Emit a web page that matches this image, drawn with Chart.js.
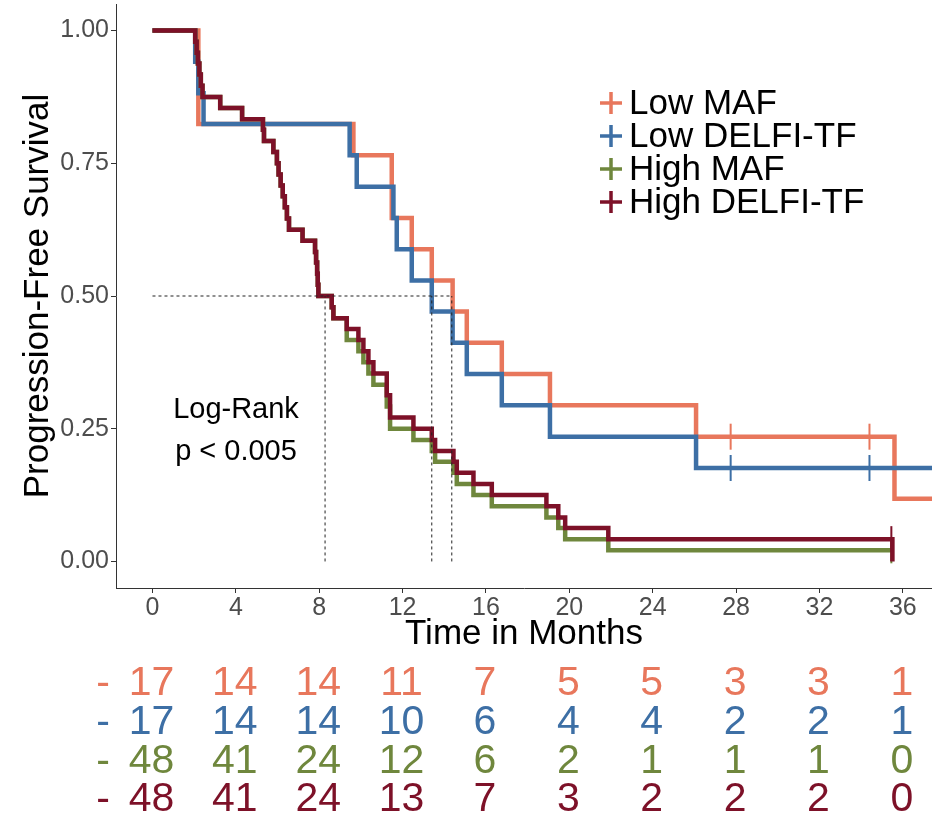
<!DOCTYPE html>
<html>
<head>
<meta charset="utf-8">
<script src="https://cdn.jsdelivr.net/npm/chart.js@4.4.1/dist/chart.umd.min.js"></script>
<style>
  html, body { margin: 0; padding: 0; background: #fff; }
  #wrap { width: 932px; height: 815px; }
</style>
</head>
<body>
<div id="wrap"><canvas id="km" width="932" height="815"></canvas></div>
<script>
// Kaplan-Meier step points (time in months, survival)
const lowMafTimes = [0, 2.2, 9.64, 11.48, 12.44, 13.4, 14.4, 15.08, 16.76, 19.07, 26.08, 35.6, 37.4];
const lowMafSurv = [1, 0.824, 0.765, 0.647, 0.588, 0.529, 0.471, 0.412, 0.353, 0.294, 0.235, 0.118, 0.118];

const lowDelfiTimes = [0, 2.05, 2.2, 2.45, 9.46, 9.8, 11.56, 11.72, 12.44, 13.4, 14.4, 15.08, 16.76, 19.07, 26.08, 37.4];
const lowDelfiSurv = [1, 0.941, 0.882, 0.824, 0.765, 0.706, 0.647, 0.588, 0.529, 0.471, 0.412, 0.353, 0.294, 0.235, 0.176, 0.176];

const highMafTimes = [0, 2.05, 2.12, 2.18, 2.25, 2.32, 2.4, 3.25, 4.3, 5.3, 5.35, 5.8, 5.97, 6.05, 6.15, 6.25, 6.35, 6.45, 6.55, 7.2,
  7.8, 7.85, 7.9, 7.93, 7.96, 8.6, 8.68, 9.32, 9.88, 10.12, 10.36, 10.6, 11.24, 11.4, 12.52, 13.4, 13.56, 14.44, 14.6, 15.4, 16.28,
  18.9, 19.47, 19.8, 21.87, 35.5];
const highMafSurv = [1, 0.979, 0.958, 0.938, 0.917, 0.896, 0.875, 0.854, 0.833, 0.813, 0.792, 0.771, 0.75, 0.729, 0.708, 0.688, 0.667, 0.646, 0.625, 0.604,
  0.583, 0.563, 0.542, 0.521, 0.5, 0.479, 0.458, 0.417, 0.396, 0.375, 0.354, 0.333, 0.292, 0.25, 0.229, 0.208, 0.188, 0.167, 0.146, 0.125, 0.104,
  0.083, 0.063, 0.042, 0.021, 0.021];

const highDelfiTimes = [0, 2.05, 2.12, 2.18, 2.25, 2.32, 2.4, 3.25, 4.3, 5.3, 5.35, 5.8, 5.97, 6.05, 6.15, 6.25, 6.35, 6.45, 6.55, 7.2,
  7.8, 7.85, 7.9, 7.93, 7.96, 8.6, 8.68, 9.32, 9.88, 10.12, 10.36, 10.6, 11.24, 11.4, 12.52, 13.4, 13.56, 14.44, 14.6, 15.4, 16.28,
  18.9, 19.47, 19.8, 21.87, 35.5];
const highDelfiSurv = [1, 0.979, 0.958, 0.938, 0.917, 0.896, 0.875, 0.854, 0.833, 0.813, 0.792, 0.771, 0.75, 0.729, 0.708, 0.688, 0.667, 0.646, 0.625, 0.604,
  0.583, 0.563, 0.542, 0.521, 0.5, 0.479, 0.458, 0.438, 0.417, 0.396, 0.375, 0.354, 0.313, 0.271, 0.25, 0.229, 0.208, 0.188, 0.167, 0.146, 0.125,
  0.104, 0.083, 0.063, 0.042, 0];

// censoring marks
const lowMafCensorTimes = [27.74, 34.4];
const lowMafCensorSurv = [0.235, 0.235];
const lowDelfiCensorTimes = [27.74, 34.4];
const lowDelfiCensorSurv = [0.176, 0.176];
const highMafCensorTimes = [35.45];
const highMafCensorSurv = [0.021];
const highDelfiCensorTimes = [35.45];
const highDelfiCensorSurv = [0.042];

// median survival guides
const medianLevel = 0.5;
const medianTimes = [8.28, 13.4, 14.36];

// number at risk table
const riskTimes = [0, 4, 8, 12, 16, 20, 24, 28, 32, 36];
const lowMafRisk = [17, 14, 14, 11, 7, 5, 5, 3, 3, 1];
const lowDelfiRisk = [17, 14, 14, 10, 6, 4, 4, 2, 2, 1];
const highMafRisk = [48, 41, 24, 12, 6, 2, 1, 1, 1, 0];
const highDelfiRisk = [48, 41, 24, 13, 7, 3, 2, 2, 2, 0];

const yTicks = [0, 0.25, 0.5, 0.75, 1];

const fontFamily = "'Liberation Sans', Arial, Helvetica, sans-serif";

const groups = [
  { name: 'Low MAF', color: '#E8775C', times: lowMafTimes, surv: lowMafSurv, cT: lowMafCensorTimes, cS: lowMafCensorSurv, risk: lowMafRisk, order: 4 },
  { name: 'Low DELFI-TF', color: '#3D6FA5', times: lowDelfiTimes, surv: lowDelfiSurv, cT: lowDelfiCensorTimes, cS: lowDelfiCensorSurv, risk: lowDelfiRisk, order: 3 },
  { name: 'High MAF', color: '#6F873D', times: highMafTimes, surv: highMafSurv, cT: highMafCensorTimes, cS: highMafCensorSurv, risk: highMafRisk, order: 2 },
  { name: 'High DELFI-TF', color: '#7D1128', times: highDelfiTimes, surv: highDelfiSurv, cT: highDelfiCensorTimes, cS: highDelfiCensorSurv, risk: highDelfiRisk, order: 1 },
];

let datasets = [];
groups.forEach(function (g) {
  datasets.push({
    label: g.name,
    data: g.times.map((t, i) => ({ x: t, y: g.surv[i] })),
    showLine: true,
    stepped: true,
    borderColor: g.color,
    borderWidth: 4.5,
    pointRadius: 0,
    fill: false,
    order: g.order,
  });
  datasets.push({
    label: g.name + ' censored',
    data: g.cT.map((t, i) => ({ x: t, y: g.cS[i] })),
    showLine: false,
    pointStyle: 'line',
    pointRotation: 90,
    pointRadius: 13,
    pointHoverRadius: 13,
    pointBorderColor: g.color,
    pointBorderWidth: 2,
    order: g.order,
  });
});

// dashed median guides
datasets.push({
  label: 'median-h',
  data: [{ x: 0, y: medianLevel }, { x: medianTimes[medianTimes.length - 1], y: medianLevel }],
  showLine: true,
  borderColor: '#222',
  borderWidth: 1,
  borderDash: [3, 3],
  pointRadius: 0,
  order: 0,
});
medianTimes.forEach(function (m) {
  datasets.push({
    label: 'median-v',
    data: [{ x: m, y: 0 }, { x: m, y: medianLevel }],
    showLine: true,
    borderColor: '#222',
    borderWidth: 1,
    borderDash: [3, 3],
    pointRadius: 0,
    order: 0,
  });
});

const extrasPlugin = {
  id: 'kmExtras',
  afterDraw(chart) {
    const ctx = chart.ctx;
    const xs = chart.scales.x;
    ctx.save();

    // log-rank annotation
    ctx.fillStyle = '#000';
    ctx.textAlign = 'center';
    ctx.textBaseline = 'middle';
    ctx.font = '29px ' + fontFamily;
    ctx.fillText('Log-Rank', 236, 410);
    ctx.fillText('p < 0.005', 236, 452);

    // legend
    const lx = 611, ly = 103, gap = 33;
    groups.forEach(function (g, i) {
      const y = ly + i * gap;
      ctx.strokeStyle = g.color;
      ctx.lineWidth = 3.5;
      ctx.beginPath();
      ctx.moveTo(lx - 11, y);
      ctx.lineTo(lx + 11, y);
      ctx.moveTo(lx, y - 11);
      ctx.lineTo(lx, y + 11);
      ctx.stroke();
      ctx.fillStyle = '#000';
      ctx.textAlign = 'left';
      ctx.font = '35px ' + fontFamily;
      ctx.fillText(g.name, 629, y + 1);
    });

    // number at risk
    const rowY = [684, 723, 762, 800];
    ctx.font = '41px ' + fontFamily;
    groups.forEach(function (g, i) {
      ctx.fillStyle = g.color;
      ctx.textAlign = 'center';
      ctx.fillText('-', 103, rowY[i]);
      g.risk.forEach(function (n, j) {
        ctx.fillText(String(n), xs.getPixelForValue(riskTimes[j]) - 1, rowY[i]);
      });
    });
    ctx.restore();
  },
};

new Chart(document.getElementById('km'), {
  type: 'scatter',
  data: { datasets: datasets },
  plugins: [extrasPlugin],
  options: {
    responsive: false,
    animation: false,
    events: [],
    layout: { autoPadding: false, padding: { top: 4, left: 0, right: 0, bottom: 160 } },
    plugins: {
      legend: { display: false },
      tooltip: { enabled: false },
    },
    scales: {
      x: {
        type: 'linear',
        min: -1.75,
        max: 37.4,
        afterBuildTicks: function (scale) {
          scale.ticks = riskTimes.map((v) => ({ value: v }));
        },
        afterFit: function (scale) {
          scale.height = 67;
          scale.paddingLeft = 0;
          scale.paddingRight = 0;
        },
        ticks: {
          autoSkip: false,
          maxRotation: 0,
          padding: 0,
          color: '#4D4D4D',
          font: { size: 25, family: fontFamily },
          callback: (v) => String(v),
        },
        grid: { drawOnChartArea: false, drawTicks: true, tickLength: 5, tickColor: '#333', tickWidth: 1 },
        border: { display: true, color: '#333', width: 1 },
        title: {
          display: true,
          text: 'Time in Months',
          color: '#000',
          font: { size: 35, family: fontFamily },
          padding: { top: 0, bottom: 0 },
        },
      },
      y: {
        type: 'linear',
        min: -0.05,
        max: 1.05,
        afterBuildTicks: function (scale) {
          scale.ticks = yTicks.map((v) => ({ value: v }));
        },
        afterFit: function (scale) {
          scale.width = 116;
          scale.paddingTop = 0;
          scale.paddingBottom = 0;
        },
        ticks: {
          autoSkip: false,
          padding: 2,
          color: '#4D4D4D',
          font: { size: 25, family: fontFamily },
          callback: (v) => v.toFixed(2),
        },
        grid: { drawOnChartArea: false, drawTicks: true, tickLength: 5, tickColor: '#333', tickWidth: 1 },
        border: { display: true, color: '#333', width: 1 },
        title: {
          display: true,
          text: 'Progression-Free Survival',
          color: '#000',
          font: { size: 35, family: fontFamily },
          padding: { top: 17, bottom: 0 },
        },
      },
    },
  },
});
</script>
</body>
</html>
